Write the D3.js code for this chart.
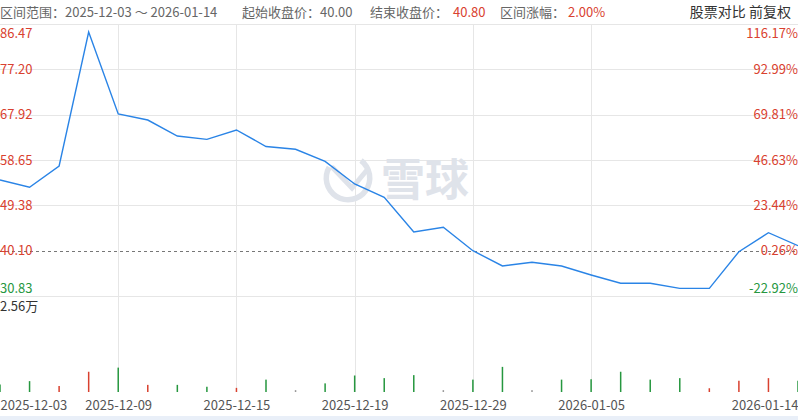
<!DOCTYPE html>
<html><head><meta charset="utf-8">
<script src="https://cdn.jsdelivr.net/npm/d3@7/dist/d3.min.js"></script>
<style>
html,body{margin:0;padding:0;background:#fff;}
svg{display:block;font-family:"Noto Sans CJK SC","Noto Sans",sans-serif;}
</style></head>
<body><svg id="c" width="798" height="420"></svg>
<script>
const dates = ["2025-12-03","2025-12-04","2025-12-05","2025-12-08","2025-12-09","2025-12-10","2025-12-11","2025-12-12","2025-12-15","2025-12-16","2025-12-17","2025-12-18","2025-12-19","2025-12-22","2025-12-23","2025-12-24","2025-12-29","2025-12-30","2025-12-31","2026-01-02","2026-01-05","2026-01-06","2026-01-07","2026-01-08","2026-01-09","2026-01-12","2026-01-13","2026-01-14"];
const prices = [54.56,53.07,57.42,84.83,68.06,66.83,63.56,62.88,64.79,61.41,60.84,58.38,53.74,51.02,43.92,44.88,40.10,36.97,37.72,36.97,35.13,33.43,33.43,32.40,32.40,39.89,43.78,41.12];
const volumes = [0.20,0.29,0.16,0.54,0.65,0.19,0.19,0.14,0.11,0.33,0.05,0.23,0.44,0.37,0.45,0.05,0.33,0.67,0.05,0.33,0.34,0.54,0.33,0.37,0.10,0.30,0.37,0.30];
const volDir = [-1,-1,1,1,-1,1,-1,-1,1,-1,0,-1,-1,-1,-1,0,-1,-1,0,-1,-1,-1,-1,-1,1,1,1,-1];
const priceTicks = [30.83,40.10,49.38,58.65,67.92,77.20,86.47];
const pctLabels = ["-22.92%","0.26%","23.44%","46.63%","69.81%","92.99%","116.17%"];
const xLabelDates = ["2025-12-03","2025-12-09","2025-12-15","2025-12-19","2025-12-29","2026-01-05","2026-01-14"];
const gridDates = ["2025-12-09","2025-12-15","2025-12-19","2025-12-29","2026-01-05"];
const baseValue = 40.10;
const volMaxLabel = "2.56万";

const W = 798;
const svg = d3.select("#c");
const RED = "#d9412f", GREEN = "#26973f", BLUE = "#2a84e6";
const FONT = "\"Noto Sans CJK SC\",\"Noto Sans\",sans-serif";

const x = d3.scalePoint().domain(dates).range([0, W]);
const y = d3.scaleLinear().domain([30.83, 86.47]).range([296, 24]);
const yv = d3.scaleLinear().domain([0, 2.56]).range([392, 296]);

// header
const hdr = svg.append("g").attr("font-size", 13).attr("fill", "#666");
hdr.append("text").attr("x", 0).attr("y", 17).text("区间范围：2025-12-03 ～ 2026-01-14");
hdr.append("text").attr("x", 242).attr("y", 17).text("起始收盘价：40.00");
hdr.append("text").attr("x", 370).attr("y", 17).text("结束收盘价：");
hdr.append("text").attr("x", 453).attr("y", 17).attr("fill", RED).text("40.80");
hdr.append("text").attr("x", 500).attr("y", 17).text("区间涨幅：");
hdr.append("text").attr("x", 568).attr("y", 17).attr("fill", RED).text("2.00%");
hdr.append("text").attr("x", 791).attr("y", 17).attr("text-anchor", "end").attr("font-size", 14)
  .attr("fill", "#333").text("股票对比 前复权");

// horizontal grid via axis
const gy = svg.append("g")
  .call(d3.axisRight(y).tickValues(priceTicks).tickSize(W).tickFormat(""));
gy.select(".domain").remove();
gy.selectAll(".tick line").attr("stroke", "#e6e6e6").attr("shape-rendering", "crispEdges")
  .filter(d => d === baseValue).attr("stroke", "#777").attr("stroke-dasharray", "3,3");

// vertical grid
svg.append("g").selectAll("line").data(gridDates).join("line")
  .attr("x1", d => Math.round(x(d)) + 0.5).attr("x2", d => Math.round(x(d)) + 0.5)
  .attr("y1", 24).attr("y2", 392).attr("stroke", "#e6e6e6");

// watermark
const arc = d3.arc().innerRadius(19).outerRadius(24.5).startAngle(-2.5 + Math.PI).endAngle(2.1 + Math.PI);
svg.append("path").attr("d", arc()).attr("transform", "translate(348,178)").attr("fill", "#dfe3ea");
svg.append("path").attr("d", "M333,168 L352,188 L367,170").attr("fill", "none")
  .attr("stroke", "#dfe3ea").attr("stroke-width", 5).attr("stroke-linecap", "round");
svg.append("text").attr("x", 381).attr("y", 196).attr("font-size", 44).attr("font-weight", "bold")
  .attr("fill", "#dfe3ea").text("雪球");

// volume bars
svg.append("g").selectAll("rect").data(dates).join("rect")
  .attr("x", d => x(d) - 0.75).attr("width", 1.5)
  .attr("y", (d, i) => yv(volumes[i])).attr("height", (d, i) => yv(0) - yv(volumes[i]))
  .attr("fill", (d, i) => volDir[i] > 0 ? RED : volDir[i] < 0 ? GREEN : "#999");

// price line
svg.append("path").datum(dates)
  .attr("fill", "none").attr("stroke", BLUE).attr("stroke-width", 1.4)
  .attr("d", d3.line().x(d => x(d)).y((d, i) => y(prices[i])));

const dyFor = d => d === 86.47 ? "1.0em" : d === 30.83 ? "-0.3em" : "0.32em";

// left labels
const la = svg.append("g").call(d3.axisRight(y).tickValues(priceTicks).tickSize(0).tickPadding(0).tickFormat(d3.format(".2f")));
la.select(".domain").remove();
la.selectAll("text").attr("font-size", 13).attr("font-family", FONT)
  .attr("fill", d => d < baseValue ? GREEN : RED).attr("dy", dyFor);

// right labels
const ra = svg.append("g").attr("transform", `translate(${W},0)`)
  .call(d3.axisLeft(y).tickValues(priceTicks).tickSize(0).tickPadding(0).tickFormat((d, i) => pctLabels[i]));
ra.select(".domain").remove();
ra.selectAll("text").attr("font-size", 13).attr("font-family", FONT)
  .attr("fill", d => d < baseValue ? GREEN : RED).attr("dy", dyFor);

// volume label
svg.append("text").attr("x", 0).attr("y", 311).attr("font-size", 13).attr("fill", "#333").text(volMaxLabel);

// x axis labels
const xa = svg.append("g").attr("transform", "translate(0,401)")
  .call(d3.axisBottom(x).tickValues(xLabelDates).tickSize(0).tickPadding(0));
xa.select(".domain").remove();
xa.selectAll("text").attr("font-size", 13).attr("fill", "#555").attr("font-family", FONT)
  .attr("text-anchor", (d, i) => i === 0 ? "start" : i === xLabelDates.length - 1 ? "end" : "middle");

// slider band at bottom
svg.append("rect").attr("x", 0).attr("y", 416).attr("width", W).attr("height", 4).attr("fill", "#e9eff8");
</script></body></html>
